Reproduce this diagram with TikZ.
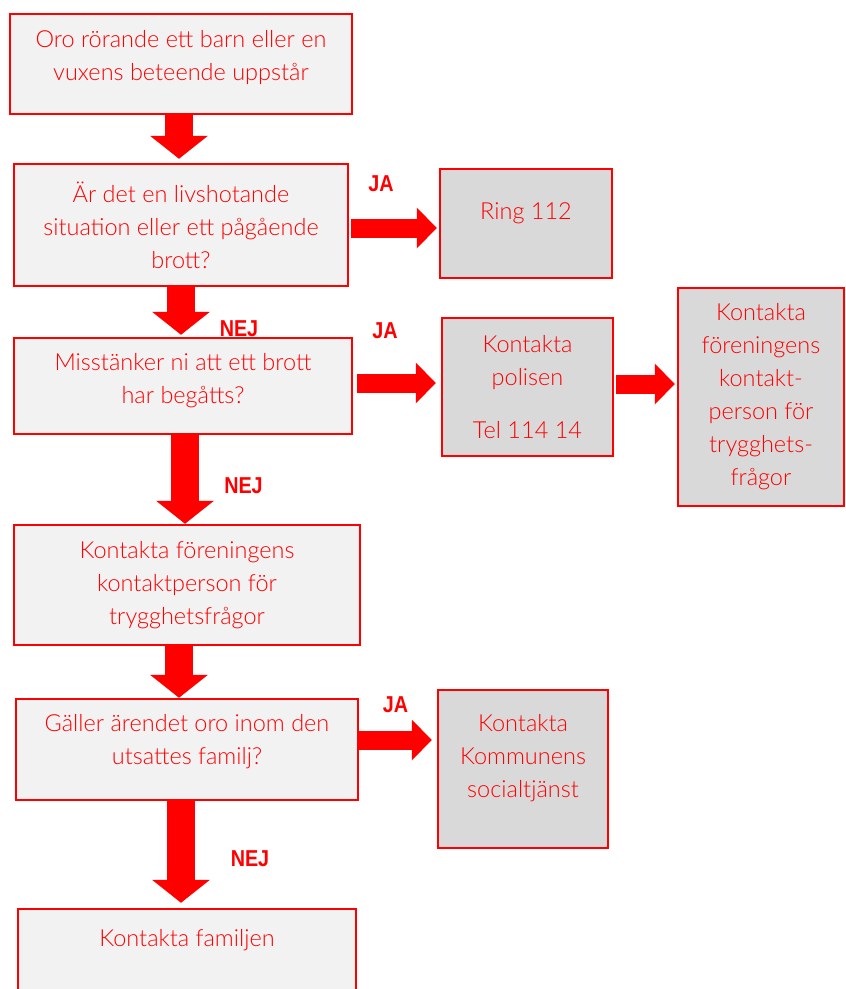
\documentclass[tikz,border=0pt]{standalone}
\usepackage{fontspec}
\setmainfont{Lato Light}
\newfontfamily\answerfont{Liberation Sans Bold}
\usetikzlibrary{arrows.meta}

% extra depth under the last line, lifts the text in its box
\newcommand{\lowpad}[1]{\rule[-#1]{0pt}{0pt}}

\begin{document}
\begin{tikzpicture}[x=1pt, y=-1pt, node distance=160pt]
    \definecolor{boxred}{RGB}{255,0,0}
    \definecolor{qgray}{RGB}{242,242,242}
    \definecolor{agray}{RGB}{217,217,217}
    \tikzstyle{question} = [rectangle, draw=boxred, line width=2.5pt, fill=qgray, text=boxred, align=center, font=\fontsize{23.5}{33}\selectfont]
    \tikzstyle{action} = [question, fill=agray]
    \tikzstyle{answer} = [text=boxred, inner sep=0pt, font=\answerfont\fontsize{23}{23}\selectfont]
    \tikzstyle{down} = [draw=boxred, line width=28pt, -{Triangle[length=23pt, width=58pt, line width=0pt]}]
    \tikzstyle{side} = [draw=boxred, line width=19pt, -{Triangle[length=20pt, width=41pt, line width=0pt]}]

    \clip (0,0) rectangle (846,989);

    \node (oro) [question, minimum width=342pt, minimum height=100pt] at (181,64) {Oro rörande ett barn eller en\\vuxens beteende uppstår\lowpad{17.5pt}};
    \node (livs) [question, below of=oro, yshift=-1pt, minimum width=334pt, minimum height=122pt] {Är det en livshotande\\situation eller ett pågående\\brott?};
    \node (ring) [action, right of=livs, xshift=185pt, yshift=1.5pt, minimum width=172pt, minimum height=109pt] {Ring 112\lowpad{25.5pt}};

    \node (ja1) [answer] at (381,183.5) {\scalebox{0.86}[1]{JA}};
    \node (nej1) [answer] at (239,329) {\scalebox{0.86}[1]{NEJ}};

    \node (miss) [question, below of=livs, xshift=2pt, yshift=-1pt, minimum width=338pt, minimum height=96pt] {Misstänker ni att ett brott\\har begåtts?\lowpad{15.5pt}};
    \node (polisen) [action, right of=miss, xshift=184.5pt, yshift=-1pt, minimum width=171pt, minimum height=138pt] {Kontakta\\polisen\\[20pt]Tel 114 14};
    \node (kontaktR) [action, right of=polisen, xshift=73.5pt, yshift=-10pt, minimum width=166pt, minimum height=218pt] {Kontakta\\föreningens\\kontakt-\\person för\\trygghets-\\frågor};

    \node (ja2) [answer] at (385,331) {\scalebox{0.86}[1]{JA}};
    \node (nej2) [answer] at (243.5,486) {\scalebox{0.86}[1]{NEJ}};

    \node (forening) [question, below of=miss, xshift=4pt, yshift=-39pt, minimum width=346pt, minimum height=120pt] {Kontakta föreningens\\kontaktperson för\\trygghetsfrågor};
    \node (galler) [question, below of=forening, yshift=-4.5pt, minimum width=342pt, minimum height=101pt] {Gäller ärendet oro inom den\\utsattes familj?\lowpad{20.5pt}};
    \node (kommun) [action, right of=galler, xshift=176pt, yshift=-19.5pt, minimum width=170pt, minimum height=158pt] {Kontakta\\Kommunens\\socialtjänst\lowpad{25.5pt}};

    \node (ja3) [answer] at (395.5,704.5) {\scalebox{0.86}[1]{JA}};
    \node (nej3) [answer] at (250,859) {\scalebox{0.86}[1]{NEJ}};

    \node (familj) [question, below of=galler, yshift=-50pt, minimum width=338pt, minimum height=101pt] {Kontakta familjen\lowpad{43.5pt}};

    \draw [down, shorten >=4pt] ([xshift=-2pt]oro.south) -- ([xshift=-2pt]oro.south |- livs.north);
    \draw [down, shorten >=2pt] (livs.south) -- (livs.south |- miss.north);
    \draw [down] ([xshift=2pt]miss.south) -- ([xshift=2pt]miss.south |- forening.north);
    \draw [down] ([xshift=-8pt]forening.south) -- ([xshift=-8pt]forening.south |- galler.north);
    \draw [down, shorten >=5pt] ([xshift=-6pt]galler.south) -- ([xshift=-6pt]galler.south |- familj.north);

    \draw [side, shorten <=2pt, shorten >=2pt] ([yshift=-3pt]livs.east) -- ([yshift=-3pt]livs.east -| ring.west);
    \draw [side, shorten <=4pt, shorten >=5pt] ([yshift=3pt]miss.east) -- ([yshift=3pt]miss.east -| polisen.west);
    \draw [side, shorten <=2pt, shorten >=2pt] ([yshift=3pt]polisen.east) -- ([yshift=3pt]polisen.east -| kontaktR.west);
    \draw [side, shorten >=5pt] ([yshift=9.5pt]galler.east) -- ([yshift=9.5pt]galler.east -| kommun.west);
\end{tikzpicture}
\end{document}
